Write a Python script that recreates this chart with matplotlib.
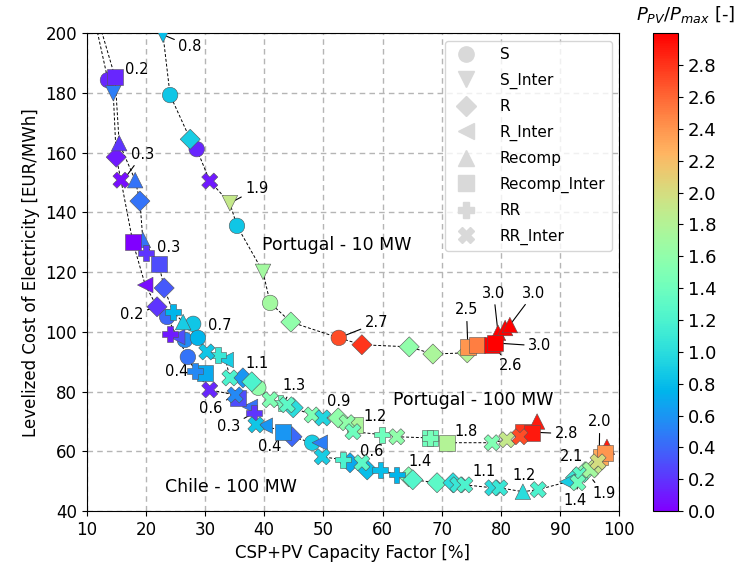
import matplotlib
matplotlib.use("Agg")
import matplotlib.pyplot as plt
from matplotlib.lines import Line2D
import numpy as np

# ---------------- data ----------------
# S (circle)
s_x = [24.1, 28.6, 35.4, 41.0, 52.6, 13.6, 23.6, 28.0, 26.6, 28.8, 27.1, 39.0, 48.1]
s_y = [179.3, 161.2, 135.5, 109.7, 98.0, 184.3, 105.0, 102.7, 97.3, 98.0, 91.6, 81.3, 62.9]
s_c = [0.85, 0.15, 0.85, 1.7, 2.7, 0.15, 0.4, 0.85, 0.55, 0.75, 0.45, 1.6, 0.9]
# S_Inter (down triangle)
si_x = [22.9, 34.2, 39.8, 14.5]
si_y = [199.5, 143.1, 120.1, 179.9]
si_c = [0.8, 1.9, 1.7, 0.5]
# R (diamond)
r_x = [27.5, 44.5, 56.5, 64.5, 68.5, 74.3, 15.0, 19.0, 23.1, 21.9, 36.4, 37.9, 44.7, 54.5,
       57.4, 64.4, 65.1, 44.9, 52.5, 69.2, 71.9, 92.6, 94.2, 95.9]
r_y = [164.5, 103.3, 95.7, 95.0, 92.6, 93.0, 158.5, 143.8, 114.7, 108.4, 84.6, 83.3, 64.9, 56.2,
       53.8, 51.5, 50.5, 74.6, 71.2, 49.5, 49.5, 51.2, 53.2, 54.8]
r_c = [0.9, 1.6, 2.8, 1.6, 1.75, 1.8, 0.1, 0.45, 0.35, 0.2, 0.6, 1.2, 0.4, 0.7,
       0.8, 1.5, 1.25, 1.0, 1.6, 1.3, 1.0, 1.1, 1.5, 1.9]
# R_Inter (left triangle)
ri_x = [19.9, 25.3, 33.5, 37.6, 40.1, 49.4, 91.2]
ri_y = [115.7, 98.3, 90.6, 74.9, 68.6, 62.9, 49.8]
ri_c = [0.05, 0.3, 0.9, 0.45, 0.6, 0.5, 0.9]
# Recomp (up triangle)
rc_x = [15.5, 18.2, 19.5, 26.3, 79.5, 80.7, 81.5, 86.1, 83.7, 97.9]
rc_y = [163.2, 150.8, 130.8, 103.3, 99.7, 101.3, 102.3, 70.0, 46.5, 61.5]
rc_c = [0.2, 0.45, 0.45, 0.9, 3.0, 3.0, 3.0, 2.9, 1.0, 2.9]
# Recomp_Inter (square)
rci_x = [74.4, 76.0, 78.5, 79.0, 14.8, 17.8, 22.2, 30.0, 35.6, 43.2, 55.3, 68.0, 70.9,
         83.7, 85.2, 96.8, 97.6]
rci_y = [95.0, 95.7, 95.7, 96.3, 185.3, 130.1, 122.7, 86.3, 77.9, 66.6, 68.9, 64.5, 62.9,
         66.6, 66.2, 58.2, 59.5]
rci_c = [2.4, 2.5, 3.0, 3.0, 0.15, 0.0, 0.3, 0.7, 0.3, 0.6, 1.75, 1.4, 1.8,
         2.8, 2.9, 2.3, 2.4]
# RR (plus)
rr_x = [20.0, 24.6, 24.1, 28.3, 32.2, 38.3, 53.3, 59.6, 62.4, 42.7, 59.9, 68.0]
rr_y = [126.4, 106.7, 99.3, 86.9, 92.3, 72.9, 57.2, 53.8, 52.2, 76.3, 65.6, 64.5]
rr_c = [0.2, 0.75, 0.1, 0.55, 1.1, 0.2, 1.2, 0.8, 0.75, 1.4, 1.4, 1.45]
# RR_Inter (x)
rri_x = [30.8, 15.8, 30.3, 34.2, 30.8, 35.1, 38.6, 49.8, 56.5, 41.0, 43.9, 48.1, 49.9, 54.0,
         55.0, 62.4, 78.5, 81.0, 83.2, 72.7, 73.9, 78.6, 79.8, 86.3, 93.4, 95.1, 96.4, 93.0]
rri_y = [150.5, 150.8, 93.3, 84.6, 80.6, 78.9, 68.9, 58.2, 56.2, 77.3, 75.6, 72.2, 71.2, 69.6,
         66.6, 64.9, 62.9, 63.9, 64.9, 48.8, 48.8, 47.8, 47.8, 47.2, 52.2, 53.8, 56.5, 49.5]
rri_c = [0.1, 0.05, 0.85, 1.2, 0.15, 0.55, 0.85, 0.9, 1.3, 1.5, 1.3, 1.5, 0.95, 1.6,
         1.4, 1.6, 1.5, 1.9, 2.7, 1.1, 1.2, 1.0, 1.1, 1.2, 1.3, 1.7, 2.0, 1.4]

# Pareto fronts (dashed lines)
pt10_x = [22.9, 24.1, 27.5, 28.6, 30.8, 34.2, 35.4, 39.8, 41.0, 44.5, 52.6, 56.5, 64.5, 68.5,
          74.3, 76.0, 79.0, 81.5]
pt10_y = [199.5, 179.3, 164.5, 161.2, 150.5, 143.1, 135.5, 120.1, 109.7, 103.3, 98.0, 95.7, 95.0,
          92.6, 93.0, 95.7, 96.3, 102.3]
pt100_x = [10.4, 14.8, 15.5, 18.2, 19.0, 19.5, 22.2, 23.1, 24.6, 26.3, 28.8, 30.3, 32.2, 33.5,
           34.2, 37.9, 39.0, 41.0, 42.7, 43.9, 44.9, 48.1, 49.9, 52.5, 54.0, 55.0, 59.9, 62.4,
           68.0, 70.9, 78.5, 81.0, 83.7, 86.1]
pt100_y = [215.0, 185.3, 163.2, 150.8, 143.8, 130.8, 122.7, 114.7, 106.7, 103.3, 98.0, 93.3, 92.3,
           90.6, 84.6, 83.3, 81.3, 77.3, 76.3, 75.6, 74.6, 72.2, 71.2, 71.2, 69.6, 66.6, 65.6,
           64.9, 64.5, 62.9, 62.9, 63.9, 66.6, 70.0]
cl_x = [10.2, 13.6, 14.5, 15.0, 15.8, 17.8, 19.9, 21.9, 23.6, 25.3, 27.1, 28.3, 30.8, 35.1, 37.6,
        38.6, 40.1, 43.2, 44.7, 48.1, 49.8, 53.3, 56.5, 57.4, 59.6, 62.4, 65.1, 69.2, 73.9,
        78.6, 79.8, 83.7, 86.3, 91.2, 93.4, 95.1, 96.4, 97.6, 97.9]
cl_y = [215.0, 184.3, 179.9, 158.5, 150.8, 130.1, 115.7, 108.4, 105.0, 98.3, 91.6, 86.9, 80.6,
        78.9, 74.9, 68.9, 68.6, 66.6, 64.9, 62.9, 58.2, 57.2, 56.2, 53.8, 53.8, 52.2, 50.5,
        49.5, 48.8, 47.8, 47.8, 46.5, 47.2, 49.8, 52.2, 53.8, 56.5, 59.5, 61.5]

# annotations: text, target x, target y, text x, text y
ann_text = ["0.8", "0.2", "0.3", "0.3", "0.2", "0.7", "0.4", "1.1", "0.6", "0.3", "0.4",
            "1.3", "0.9", "1.2", "0.6", "1.4", "1.8", "2.8", "1.1", "1.2", "2.0", "2.1",
            "1.9", "1.4", "2.7", "1.9", "2.5", "3.0", "3.0", "3.0", "2.6"]
ann_x = [22.9, 14.8, 16.2, 22.2, 21.9, 28.8, 27.1, 34.2, 35.1, 38.3, 44.7,
         43.5, 49.9, 55.0, 56.5, 65.1, 70.9, 83.7, 73.9, 86.3, 96.6, 94.7,
         95.5, 93.0, 52.6, 34.2, 74.4, 79.5, 81.5, 79.0, 78.5]
ann_y = [199.5, 185.3, 150.8, 122.7, 108.4, 98.0, 91.6, 84.6, 78.9, 72.9, 64.9,
         77.0, 71.2, 66.6, 56.2, 50.5, 62.9, 66.6, 48.8, 47.2, 59.5, 53.8,
         50.5, 48.8, 98.0, 143.1, 95.0, 99.7, 102.3, 96.3, 95.7]
ann_tx = [25.5, 16.5, 17.5, 21.9, 15.6, 30.5, 23.2, 36.8, 29.0, 32.0, 39.0,
          43.0, 50.6, 56.7, 56.2, 64.3, 72.2, 89.1, 75.1, 82.0, 94.7, 90.0,
          95.4, 90.5, 57.0, 36.8, 72.2, 76.8, 83.6, 84.6, 79.7]
ann_ty = [195.7, 188.0, 159.5, 128.4, 105.7, 102.0, 86.6, 89.3, 74.2, 68.2, 61.5,
          82.0, 76.6, 71.6, 59.9, 56.5, 66.6, 65.9, 53.2, 51.8, 69.9, 58.2,
          45.8, 43.5, 103.0, 148.0, 107.4, 113.0, 113.0, 95.3, 88.6]

region_text = ["Portugal - 10 MW", "Portugal - 100 MW", "Chile - 100 MW"]
region_x = [39.7, 61.8, 23.2]
region_y = [129.0, 77.3, 48.2]

legend_labels = ["S", "S_Inter", "R", "R_Inter", "Recomp", "Recomp_Inter", "RR", "RR_Inter"]
cbar_ticks = [0.0, 0.2, 0.4, 0.6, 0.8, 1.0, 1.2, 1.4, 1.6, 1.8, 2.0, 2.2, 2.4, 2.6, 2.8]

# ---------------- plot ----------------
fig = plt.figure(figsize=(7.43, 5.73), dpi=100)
ax = fig.add_axes([0.1166, 0.108, 0.717, 0.834])
cax = fig.add_axes([0.879, 0.108, 0.034, 0.834])

for lx, ly in [(pt10_x, pt10_y), (pt100_x, pt100_y), (cl_x, cl_y)]:
    ax.plot(lx, ly, ls=(0, (3, 2)), color="k", lw=0.7, zorder=2)

groups = [(s_x, s_y, s_c, "o", 125), (si_x, si_y, si_c, "v", 125), (r_x, r_y, r_c, "D", 105),
          (ri_x, ri_y, ri_c, "<", 125), (rc_x, rc_y, rc_c, "^", 125),
          (rci_x, rci_y, rci_c, "s", 130), (rr_x, rr_y, rr_c, "P", 135),
          (rri_x, rri_y, rri_c, "X", 135)]
sc = None
for gx, gy, gc, mk, sz in groups:
    sc = ax.scatter(gx, gy, c=gc, cmap="rainbow", vmin=0, vmax=3, marker=mk, s=sz,
                    edgecolors="#555555", linewidths=0.4, zorder=4)

for t, x, y, tx, ty in zip(ann_text, ann_x, ann_y, ann_tx, ann_ty):
    ax.annotate(t, xy=(x, y), xytext=(tx, ty), ha="left", va="center", fontsize=10.5,
                arrowprops=dict(arrowstyle="-", color="k", lw=0.8, shrinkA=1, shrinkB=0),
                zorder=3)

for t, x, y in zip(region_text, region_x, region_y):
    ax.text(x, y, t, fontsize=12.5, ha="left", va="center", zorder=5)

ax.set_xlim(10, 100)
ax.set_ylim(40, 200)
ax.set_xticks(np.arange(10, 101, 10))
ax.set_yticks(np.arange(40, 201, 20))
ax.tick_params(labelsize=12)
ax.grid(True, ls=(0, (4, 3)), color="#b5b5b5", lw=1.0, zorder=0)
ax.set_axisbelow(True)
ax.set_xlabel("CSP+PV Capacity Factor [%]", fontsize=12)
ax.set_ylabel("Levelized Cost of Electricity [EUR/MWh]", fontsize=12)

markers = ["o", "v", "D", "<", "^", "s", "P", "X"]
handles = [Line2D([0], [0], marker=m, ls="none", color="#d9d9d9", markersize=11 if m != "D" else 10)
           for m in markers]
ax.legend(handles, legend_labels, loc="upper right", fontsize=11, labelspacing=0.68,
          handletextpad=1.2, framealpha=0.8)

cb = fig.colorbar(sc, cax=cax, ticks=cbar_ticks)
cb.ax.tick_params(labelsize=13)
cb.set_ticklabels([f"{t:.1f}" for t in cbar_ticks])
fig.text(0.923, 0.975, "$P_{PV}/P_{max}$ [-]", fontsize=13, ha="center", va="center")

fig.savefig("out.png", dpi=100)
